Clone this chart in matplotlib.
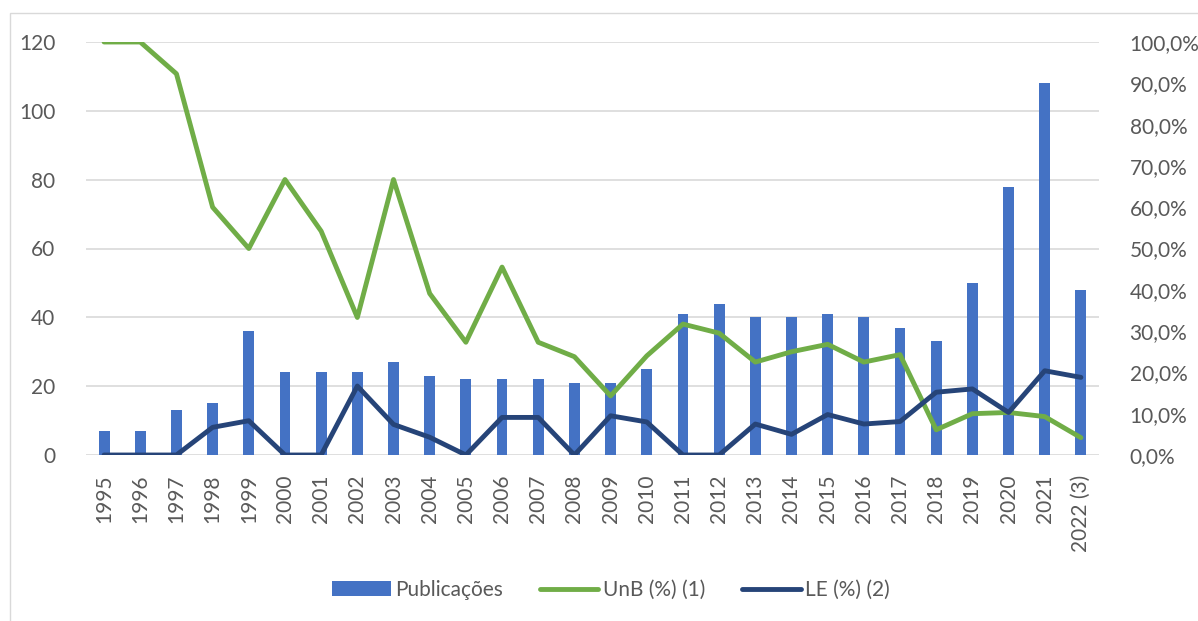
import numpy as np
import matplotlib.pyplot as plt
from matplotlib.patches import Rectangle
from matplotlib.ticker import FuncFormatter

plt.rcParams['font.family'] = ['Lato', 'DejaVu Sans']

# data
anos = ['1995', '1996', '1997', '1998', '1999', '2000', '2001', '2002', '2003', '2004',
        '2005', '2006', '2007', '2008', '2009', '2010', '2011', '2012', '2013', '2014',
        '2015', '2016', '2017', '2018', '2019', '2020', '2021', '2022 (3)']
publicacoes = [7, 7, 13, 15, 36, 24, 24, 24, 27, 23, 22, 22, 22, 21, 21, 25, 41, 44,
               40, 40, 41, 40, 37, 33, 50, 78, 108, 48]
unb = [100, 100, 92.3, 60, 50, 66.7, 54.2, 33.3, 66.7, 39.1, 27.3, 45.5, 27.3, 23.8,
       14.3, 24.0, 31.7, 29.5, 22.5, 25.0, 26.8, 22.5, 24.3, 6.1, 10.0, 10.3, 9.3, 4.2]
le = [0, 0, 0, 6.7, 8.3, 0, 0, 16.7, 7.4, 4.3, 0, 9.1, 9.1, 0, 9.5, 8.0, 0, 0,
      7.5, 5.0, 9.8, 7.5, 8.1, 15.2, 16.0, 10.3, 20.4, 18.8]

c_bar = '#4472C4'
c_unb = '#70AD47'
c_le = '#264478'
c_txt = '#595959'

fig = plt.figure(figsize=(11.98, 6.21), dpi=100)
fig.patches.append(Rectangle((10 / 1198, -0.1), 1.2, (621 - 13) / 621 + 0.1,
                             transform=fig.transFigure, fill=False,
                             edgecolor='#D9D9D9', linewidth=1))

ax = fig.add_axes([86 / 1198, (621 - 455) / 621, (1099 - 86) / 1198, (455 - 42) / 621])
x = np.arange(len(anos))
ax.bar(x, publicacoes, width=0.3, color=c_bar, label='Publicações', zorder=2)
ax.set_xlim(-0.5, len(anos) - 0.5)
ax.set_ylim(0, 120)
ax.set_yticks(range(0, 121, 20))
ax.yaxis.grid(True, color='#D9D9D9', linewidth=1.2, zorder=0)
ax.set_axisbelow(True)
for s in ax.spines.values():
    s.set_visible(False)
ax.set_xticks(x)
ax.set_xticklabels(anos, rotation=90)
ax.tick_params(axis='both', length=0, labelsize=15, colors=c_txt)
ax.tick_params(axis='y', pad=22)
ax.tick_params(axis='x', pad=14)

ax2 = ax.twinx()
ax2.plot(x, unb, color=c_unb, linewidth=3.5, label='UnB (%) (1)',
         solid_joinstyle='round', solid_capstyle='round')
ax2.plot(x, le, color=c_le, linewidth=3.5, label='LE (%) (2)',
         solid_joinstyle='round', solid_capstyle='round')
ax2.set_ylim(0, 100)
ax2.set_yticks(range(0, 101, 10))
ax2.yaxis.set_major_formatter(FuncFormatter(lambda v, p: f'{v:.1f}%'.replace('.', ',')))
for s in ax2.spines.values():
    s.set_visible(False)
ax2.tick_params(axis='y', length=0, labelsize=15, colors=c_txt, pad=22)

h1, l1 = ax.get_legend_handles_labels()
h2, l2 = ax2.get_legend_handles_labels()
fig.legend(h1 + h2, l1 + l2, loc='center', bbox_to_anchor=(0.51, 1 - 590 / 621),
           ncol=3, frameon=False, fontsize=15, labelcolor=c_txt,
           handlelength=2.8, handletextpad=0.2, columnspacing=1.8)

fig.savefig('out.png', dpi=100)
